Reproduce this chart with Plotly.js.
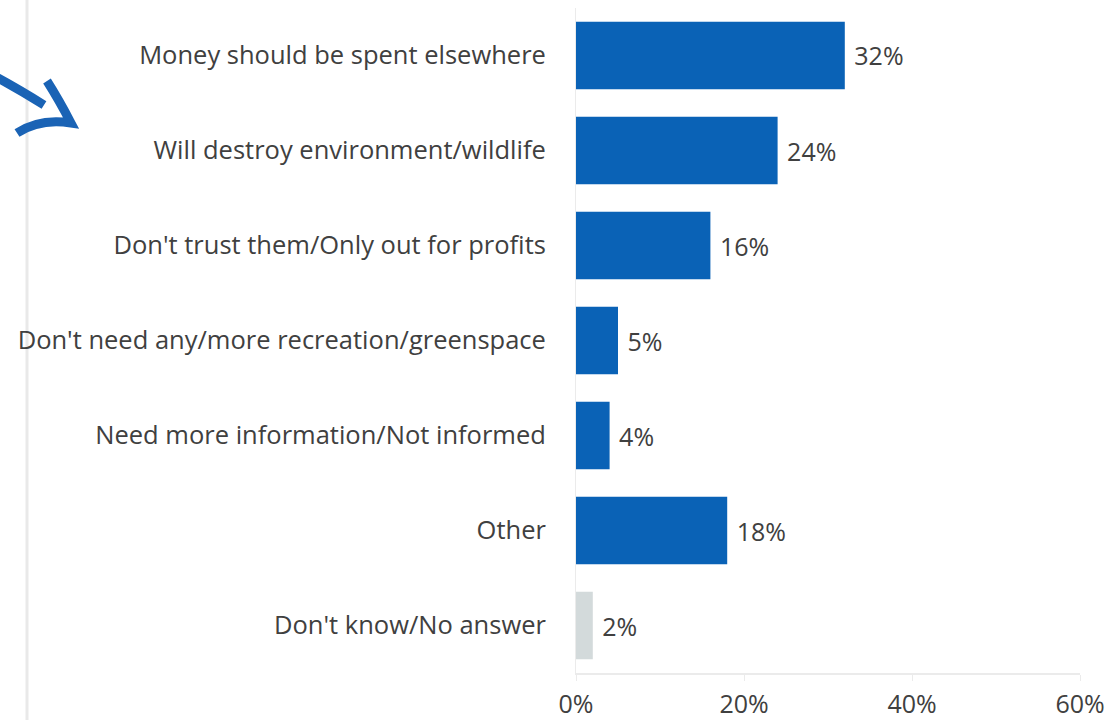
<!DOCTYPE html>
<html><head><meta charset="utf-8">
<script src="https://cdn.plot.ly/plotly-3.0.1.min.js"></script>
<style>html,body{margin:0;padding:0;background:#fff;}#chart{width:1105px;height:720px;}</style>
</head><body><div id="chart"></div>
<script>
const categories = [
  "Money should be spent elsewhere",
  "Will destroy environment/wildlife",
  "Don't trust them/Only out for profits",
  "Don't need any/more recreation/greenspace",
  "Need more information/Not informed",
  "Other",
  "Don't know/No answer"
];
const values = [32, 24, 16, 5, 4, 18, 2];
const barColors = ["#0a62b6","#0a62b6","#0a62b6","#0a62b6","#0a62b6","#0a62b6","#d3dadb"];
const xTicks = [0, 20, 40, 60];
const xTickLabels = ["0%", "20%", "40%", "60%"];

const FONT = "Open Sans, Noto Sans, sans-serif";
const FS = 25;
const FSY = 25.5;

const M = {l: 576, r: 25, t: 8, b: 47};
const W = 1105, H = 720;
const PW = W - M.l - M.r, PH = H - M.t - M.b;
// decoration helpers: convert page pixels to paper coords
const px = x => ((x - M.l) / PW).toFixed(4);
const py = y => ((H - M.b - y) / PH).toFixed(4);

const trace = {
  type: "bar",
  orientation: "h",
  y: categories,
  x: values,
  marker: {color: barColors, line: {width: 0}},
  width: 0.71,
  text: values.map(v => " " + v + "%"),
  textposition: "outside",
  cliponaxis: false,
  textfont: {family: FONT, size: FS, color: "#404040"},
  hoverinfo: "none"
};

const arrowPath =
  `M ${px(-2)} ${py(78)} Q ${px(20)} ${py(90)} ${px(44)} ${py(105)} ` +
  `M ${px(47)} ${py(81)} Q ${px(59)} ${py(100)} ${px(71)} ${py(123)} ` +
  `Q ${px(40)} ${py(118)} ${px(17)} ${py(133)}`;

const layout = {
  width: W, height: H,
  margin: M,
  paper_bgcolor: "#fff", plot_bgcolor: "#fff",
  showlegend: false,
  font: {family: FONT, color: "#404040"},
  xaxis: {
    range: [0, 60],
    tickvals: xTicks, ticktext: xTickLabels,
    showgrid: false, zeroline: false,
    showline: true, linecolor: "#ebebeb", linewidth: 2,
    ticks: "outside", ticklen: 6, tickcolor: "#ebebeb",
    ticklabelstandoff: 2,
    tickfont: {family: FONT, size: FS, color: "#404040"},
    fixedrange: true
  },
  yaxis: {
    autorange: "reversed",
    showgrid: false, zeroline: false,
    showline: true, linecolor: "#ebebeb", linewidth: 1,
    ticks: "", ticklabelstandoff: 24,
    tickfont: {family: FONT, size: FSY, color: "#404040"},
    fixedrange: true
  },
  shapes: [
    {type: "line", layer: "below", xref: "paper", yref: "paper", x0: px(27), x1: px(27), y0: py(720), y1: py(0),
     line: {color: "#e9e9e9", width: 3}},
    {type: "path", layer: "below", xref: "paper", yref: "paper", path: arrowPath,
     line: {color: "#1a63b5", width: 9}}
  ],
  bargap: 0.29
};

Plotly.newPlot("chart", [trace], layout, {displayModeBar: false, staticPlot: true});
</script></body></html>
